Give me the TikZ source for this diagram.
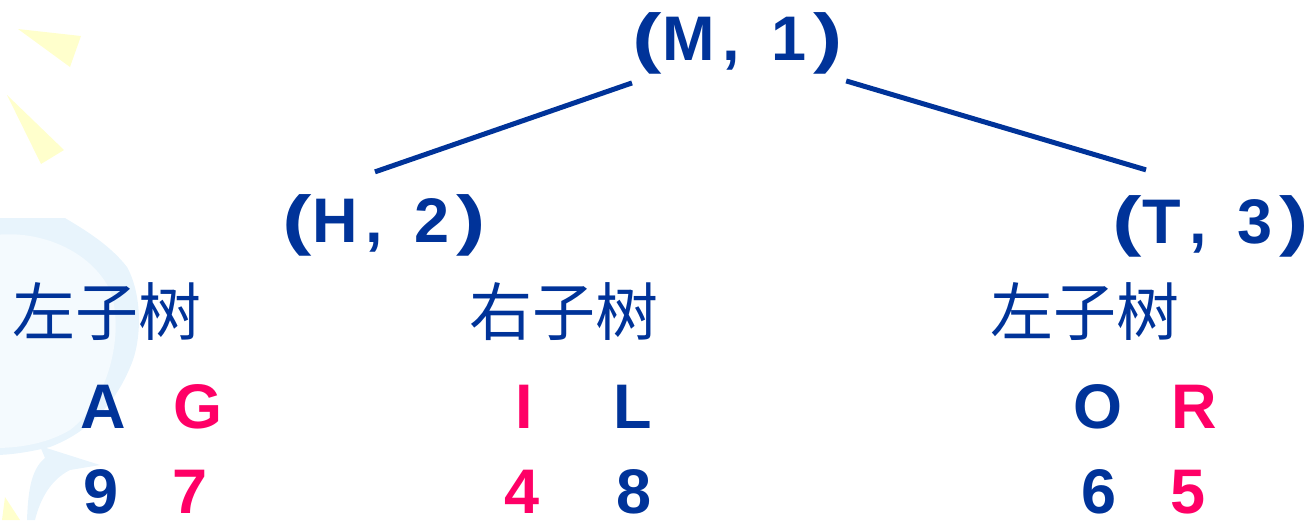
\documentclass[tikz,border=0pt]{standalone}
\usepackage{fontspec}
\setmainfont{Liberation Sans}
\newfontfamily\cjk{Noto Sans CJK SC}
\definecolor{navy}{HTML}{003399}
\definecolor{rose}{HTML}{FF0066}
\definecolor{paleyellow}{HTML}{FFFFCC}
\definecolor{paleblue}{HTML}{E8F4FC}
\definecolor{paleblueinner}{HTML}{F4FAFE}
% a (letter, number) pair with wide spacing and broad parentheses
\newcommand{\widebracket}[1]{\scalebox{1.4}[1.05]{#1}}
\newcommand{\pairlabel}[2]{\widebracket{(}\hspace{1pt}#1\hspace{8pt},\hspace{31pt}#2\hspace{7pt}\widebracket{)}}
\begin{document}
\begin{tikzpicture}[x=1pt,y=-1pt,
  pair/.style={inner sep=0pt, anchor=base west, text=navy,
    font=\fontsize{63}{70}\selectfont\bfseries},
  subtree/.style={inner sep=0pt, anchor=west, text=navy,
    font=\cjk\fontsize{63}{70}\selectfont},
  key/.style={inner sep=0pt, anchor=base,
    font=\fontsize{63}{70}\selectfont\bfseries},
  blue key/.style={key, text=navy},
  red key/.style={key, text=rose},
  edge/.style={draw=navy, line width=5pt}]
\useasboundingbox (0,0) rectangle (1307,520);

% faint background ornaments on the left
\begin{scope}
  \clip (0,0) rectangle (1307,520);
  \fill[paleyellow] (18,29) -- (81,36) -- (70,67) -- cycle;
  \fill[paleyellow] (7,95) -- (64,150) -- (41,164) -- cycle;
  \fill[paleyellow] (5,497) -- (20,520) -- (2,520) -- cycle;
  \fill[paleblue] (-5,218) -- (65,218)
    .. controls (85,230) and (110,245) .. (127,267)
    .. controls (140,290) and (143,330) .. (133,360)
    .. controls (120,395) and (95,430) .. (50,447)
    .. controls (30,452) and (10,455) .. (-5,455) -- cycle;
  \fill[paleblueinner] (-5,235)
    .. controls (40,230) and (90,250) .. (110,290)
    .. controls (125,330) and (110,400) .. (70,430)
    .. controls (45,445) and (15,448) .. (-5,448) -- cycle;
  \fill[paleblue] (40,446) -- (100,465) -- (70,470)
    .. controls (50,480) and (40,500) .. (35,520) -- (27,520)
    .. controls (28,495) and (30,470) .. (45,458) -- cycle;
\end{scope}

% tree nodes
\node[pair] (m) at (632,60)  {\pairlabel{M}{1}};
\node[pair] (h) at (282,242) {\pairlabel{H}{2}};
\node[pair] (t) at (1112,243) {\pairlabel{T}{3}};

% edges
\draw[edge] ([shift={(0,9)}]m.south west) -- ([shift={(93,-22)}]h.north west);
\draw[edge] ([shift={(3,7)}]m.south east) -- ([shift={(34,-25)}]t.north west);

% subtree captions
\node[subtree] (s1) at (12,312)  {左子树};
\node[subtree] (s2) at (469,312) {右子树};
\node[subtree] (s3) at (990,312) {左子树};

% letters
\node[blue key] (ka) at (103.5,428) {A};
\node[red key]  (kg) at (198,428)   {G};
\node[red key]  (ki) at (524.5,428) {I};
\node[blue key] (kl) at (632.5,428) {L};
\node[blue key] (ko) at (1097.5,428) {O};
\node[red key]  (kr) at (1194,428)  {R};

% weights
\node[blue key] (n9) at (101,513)  {9};
\node[red key]  (n7) at (190.5,513) {7};
\node[red key]  (n4) at (522.5,513) {4};
\node[blue key] (n8) at (634,513)  {8};
\node[blue key] (n6) at (1099,513) {6};
\node[red key]  (n5) at (1188.5,513) {5};
\end{tikzpicture}
\end{document}
